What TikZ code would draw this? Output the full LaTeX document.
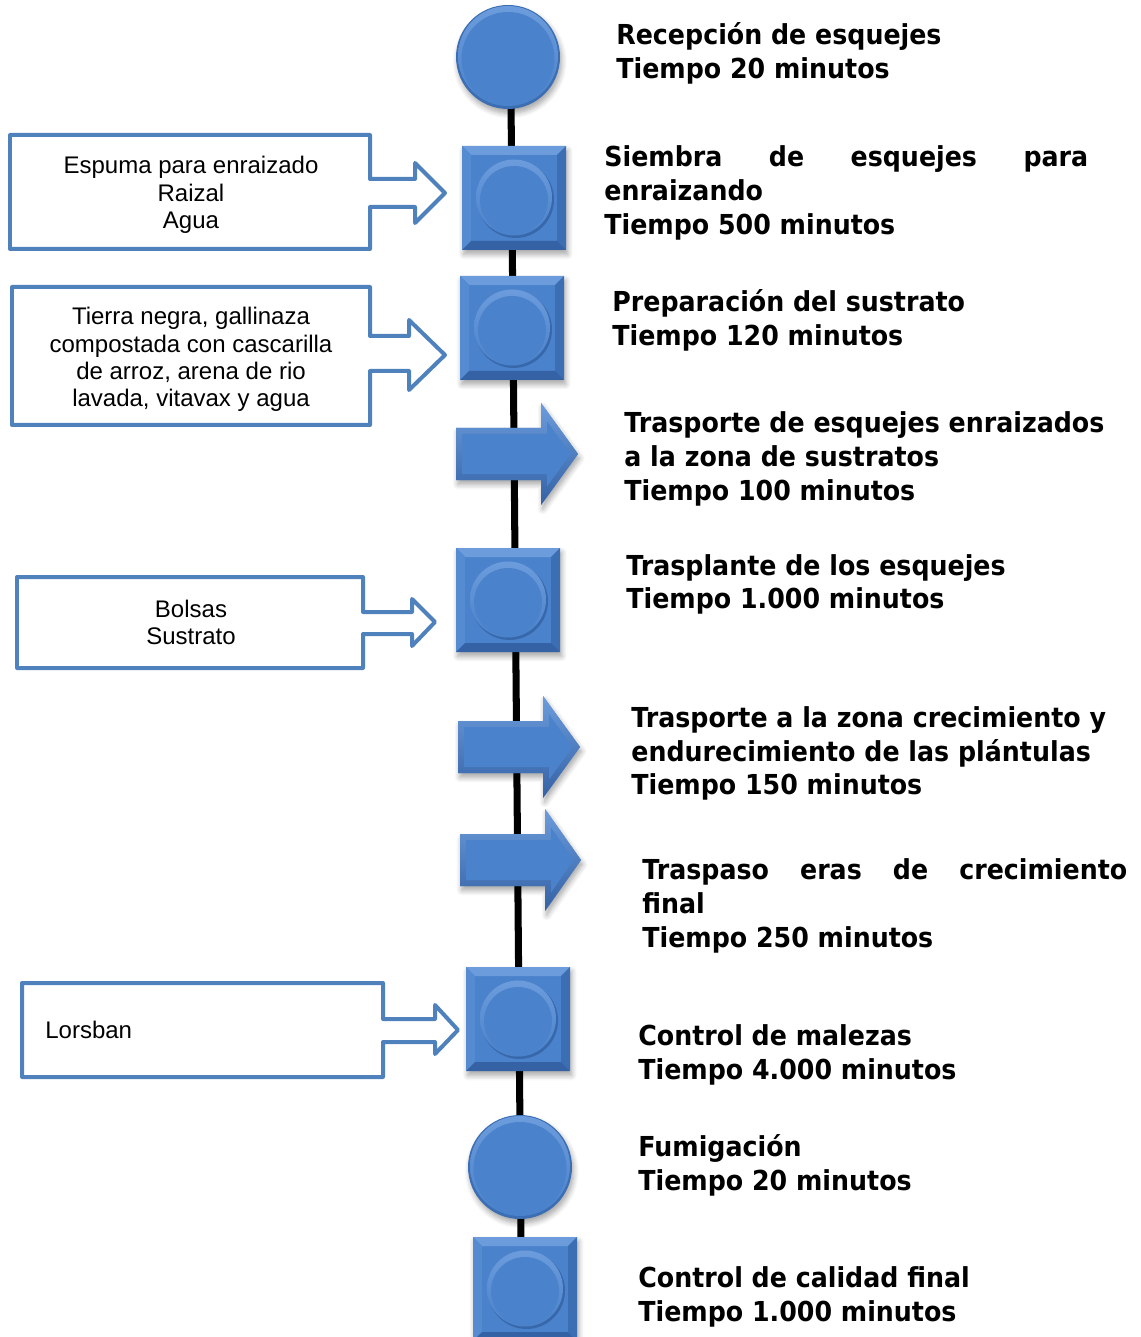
\documentclass[tikz,border=0pt]{standalone}
\usepackage{fontspec}
\setmainfont{Liberation Sans}
\newfontfamily\stepfont{DejaVu Sans}[FakeStretch=0.92]
\usetikzlibrary{shadows.blur}

\definecolor{bluemain}{RGB}{74,130,203}
\definecolor{bluelight}{RGB}{108,156,220}
\definecolor{blueside}{RGB}{84,139,209}
\definecolor{bluedark}{RGB}{60,110,180}
\definecolor{bluedeep}{RGB}{52,98,165}
\definecolor{calloutblue}{RGB}{79,129,189}

\tikzset{
  softshadow/.style={blur shadow={shadow xshift=1pt, shadow yshift=-2.5pt,
      shadow blur radius=3pt, shadow blur steps=6, shadow opacity=35}},
  spine/.style={line width=4pt, black},
  callout/.style={draw=calloutblue, line width=0.08cm, line join=round, fill=white},
  steptext/.style={anchor=base west, inner sep=0pt,
      font=\stepfont\bfseries\fontsize{15.65}{19.35}\selectfont},
  calltext/.style={inner sep=0pt, font=\fontsize{13.66}{15.37}\selectfont},
}

% round process symbol: name, x, y
\newcommand\ballstep[3]{%
  \coordinate (#1) at (#2,#3);
  \begin{scope}[shift={(#1)}]
    \fill[bluedark, softshadow] (0,0) circle[radius=1.04cm];
    \shade[top color=bluelight, bottom color=bluemain] (0,-1) circle[radius=1.0cm];
    \fill[bluemain] (0,1.5) circle[radius=0.93cm];
  \end{scope}}

% bevelled square with a knob: name, x, y
\newcommand\boxstep[3]{%
  \coordinate (#1) at (#2,#3);
  \begin{scope}[shift={(#1)}]
    \fill[bluemain, softshadow] (-52,-52) rectangle (52,52);
    \fill[bluelight] (-52,-52) -- (52,-52) -- (43,-43) -- (-43,-43) -- cycle;
    \fill[blueside] (-52,-52) -- (-43,-43) -- (-43,43) -- (-52,52) -- cycle;
    \fill[bluedark] (52,-52) -- (52,52) -- (43,43) -- (43,-43) -- cycle;
    \fill[bluedeep] (-52,52) -- (52,52) -- (43,43) -- (-43,43) -- cycle;
    \fill[bluedeep, opacity=.8] (1.5,1.5) circle[radius=0.77cm];
    \shade[top color=bluelight, bottom color=bluemain] (0,-0.5) circle[radius=0.76cm];
    \fill[bluemain] (0,2) circle[radius=0.68cm];
  \end{scope}}

% block arrow: name, left x, centre y, head base x, tip x
\newcommand\arrowstep[5]{%
  \coordinate (#1) at (#2,#3);
  \fill[bluemain, softshadow] (#2,{#3-26}) -- (#4,{#3-26}) -- (#4,{#3-51}) -- (#5,#3)
      -- (#4,{#3+51}) -- (#4,{#3+26}) -- (#2,{#3+26}) -- cycle;
  \shade[top color=bluelight, bottom color=bluedeep] (#2,{#3-26}) -- (#4,{#3-26})
      -- (#4,{#3-51}) -- (#5,#3) -- (#4,{#3+51}) -- (#4,{#3+26}) -- (#2,{#3+26}) -- cycle;
  \fill[bluemain] ({#2+6},{#3-20}) -- ({#4+6},{#3-20}) -- ({#4+6},{#3-32.5})
      -- ({#5-7.4},#3) -- ({#4+6},{#3+32.5}) -- ({#4+6},{#3+20}) -- ({#2+6},{#3+20}) -- cycle;}

\begin{document}
\begin{tikzpicture}[x=0.02cm, y=-0.02cm]
  \useasboundingbox (0,0) rectangle (1140,1337);
  \clip (0,0) rectangle (1140,1337);

  % time line behind the symbols
  \coordinate (spinetop) at (511,100);
  \coordinate (spinebot) at (521,1245);
  \draw[spine] (spinetop) -- (spinebot);

  % process symbols
  \ballstep{s1}{508}{57}
  \boxstep{s2}{514}{198}
  \boxstep{s3}{512}{328}
  \arrowstep{s4}{456}{454}{541}{578}
  \boxstep{s5}{508}{600}
  \arrowstep{s6}{458}{747}{543}{580}
  \arrowstep{s7}{460}{860}{545}{581}
  \boxstep{s8}{518}{1019}
  \ballstep{s9}{520}{1167}
  \boxstep{s10}{525}{1289}

  % input callouts
  \draw[callout] (10,135) -- (370,135) -- (370,179) -- (415,179) -- (415,163) -- (445,193)
      -- (415,223) -- (415,207) -- (370,207) -- (370,249) -- (10,249) -- cycle;
  \draw[callout] (12,287) -- (370,287) -- (370,336) -- (409,336) -- (409,320) -- (445,355)
      -- (409,390) -- (409,371) -- (370,371) -- (370,425) -- (12,425) -- cycle;
  \draw[callout] (17,577) -- (363,577) -- (363,612) -- (412,612) -- (412,599) -- (435,622)
      -- (412,646) -- (412,634) -- (363,634) -- (363,668) -- (17,668) -- cycle;
  \draw[callout] (22,983) -- (383,983) -- (383,1019) -- (435,1019) -- (435,1005) -- (458,1030)
      -- (435,1054) -- (435,1042) -- (383,1042) -- (383,1077) -- (22,1077) -- cycle;

  \node[calltext, anchor=base] (c1) at (191,174)
    {\parbox[t]{7cm}{\centering Espuma para enraizado\\Raizal\\Agua}};
  \node[calltext, anchor=base] (c2) at (191,325)
    {\parbox[t]{7cm}{\centering Tierra negra, gallinaza\\compostada con cascarilla\\de arroz, arena de rio\\lavada, vitavax y agua}};
  \node[calltext, anchor=base] (c3) at (191,617)
    {\parbox[t]{7cm}{\centering Bolsas\\Sustrato}};
  \node[calltext, anchor=base west] (c4) at (45,1038) {Lorsban};

  % step descriptions
  \node[steptext] (t1) at (616,45)
    {\parbox[t]{10cm}{Recepción de esquejes\\Tiempo 20 minutos}};
  \node[steptext] (t2) at (604,167)
    {\parbox[t]{9.68cm}{\makebox[\linewidth][s]{Siembra de esquejes para}\\enraizando\\Tiempo 500 minutos}};
  \node[steptext] (t3) at (612,312)
    {\parbox[t]{10cm}{Preparación del sustrato\\Tiempo 120 minutos}};
  \node[steptext] (t4) at (624,433)
    {\parbox[t]{10cm}{Trasporte de esquejes enraizados\\a la zona de sustratos\\Tiempo 100 minutos}};
  \node[steptext] (t5) at (626,575)
    {\parbox[t]{10cm}{Trasplante de los esquejes\\Tiempo 1.000 minutos}};
  \node[steptext] (t6) at (631,727)
    {\parbox[t]{10cm}{Trasporte a la zona crecimiento y\\endurecimiento de las plántulas\\Tiempo 150 minutos}};
  \node[steptext] (t7) at (642,879)
    {\parbox[t]{9.70cm}{\makebox[\linewidth][s]{Traspaso eras de crecimiento}\\final\\Tiempo 250 minutos}};
  \node[steptext] (t8) at (638,1045)
    {\parbox[t]{10cm}{Control de malezas\\Tiempo 4.000 minutos}};
  \node[steptext] (t9) at (638,1156)
    {\parbox[t]{10cm}{Fumigación\\Tiempo 20 minutos}};
  \node[steptext] (t10) at (638,1287)
    {\parbox[t]{10cm}{Control de calidad final\\Tiempo 1.000 minutos}};
\end{tikzpicture}
\end{document}
